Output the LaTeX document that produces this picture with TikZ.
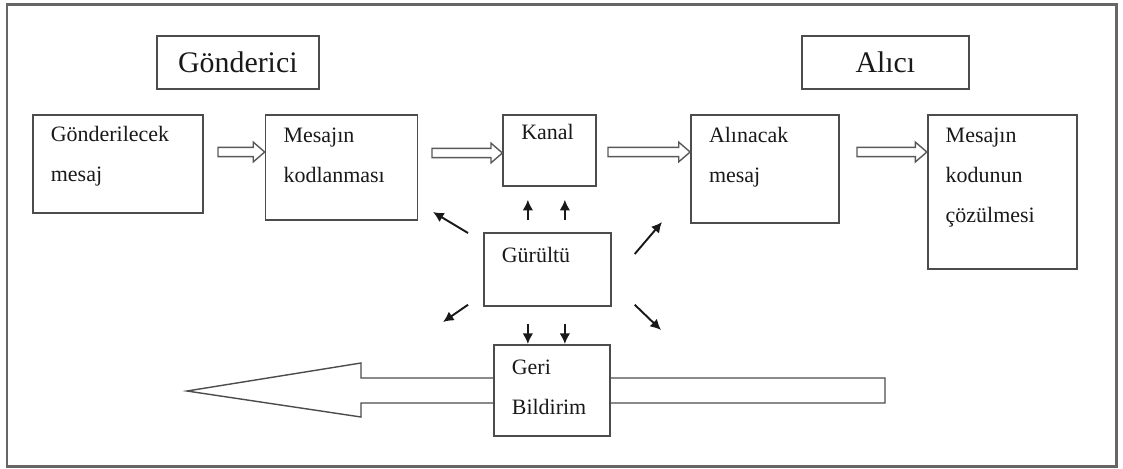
\documentclass[tikz,border=0pt]{standalone}
\usepackage{fontspec}
\setmainfont{Liberation Serif}
\usetikzlibrary{arrows.meta, positioning, calc}

\begin{document}
\begin{tikzpicture}[x=0.02cm, y=-0.02cm,
      kutu/.style={draw=black!70, line width=1pt, fill=white, text=black!90,
        inner xsep=0.36cm, inner ysep=0pt, align=left, anchor=north west,
        font=\fontsize{12.5}{22.8}\selectfont},
      baslik/.style={draw=black!70, line width=1pt, text=black!90, anchor=north west,
        minimum height=1.06cm, font=\fontsize{17}{20}\selectfont},
      kara ok/.style={-{Latex[length=6pt,width=6pt]}, line width=1.1pt, black!90},
      bos ok/.style={draw=black!65, line width=0.8pt, to path={
        let \p1=(\tikztostart), \p2=(\tikztotarget) in
        (\x1,\y1+2.6pt) -- (\x2-6.5pt,\y1+2.6pt) -- (\x2-6.5pt,\y1+5.6pt) -- (\x2,\y1)
        -- (\x2-6.5pt,\y1-5.6pt) -- (\x2-6.5pt,\y1-2.6pt) -- (\x1,\y1-2.6pt) -- cycle}}]
  \useasboundingbox (0,0) rectangle (1123,468);
  \draw[line width=1.7pt, black!60] (7,4) rectangle (1116,466);

  % basliklar
  \node[baslik, minimum width=3.24cm] (gn) at (156,35) {Gönderici};
  \node[baslik, minimum width=3.34cm] (ac) at (801,35) {Alıcı};

  % ust sira
  \node[kutu, text width=2.68cm, text height=0.54cm, text depth=1.42cm] (gm) at (32,114) {Gönderilecek\\mesaj};
  \node[kutu, text width=2.32cm, text height=0.56cm, text depth=1.54cm,
    right=1.22cm of gm.north east, anchor=north west] (kd) {Mesajın\\kodlanması};
  \node[kutu, text width=1.14cm, text height=0.5cm, text depth=0.92cm,
    right=1.68cm of kd.north east, anchor=north west] (kn) {Kanal};
  \node[kutu, text width=2.24cm, text height=0.56cm, text depth=1.6cm,
    right=1.86cm of kn.north east, anchor=north west] (al) {Alınacak\\mesaj};
  \node[kutu, text width=2.26cm, text height=0.56cm, text depth=2.52cm,
    right=1.74cm of al.north east, anchor=north west] (cz) {Mesajın\\kodunun\\çözülmesi};

  \coordinate (o1) at (218,152);
  \coordinate (o2) at (432,153);
  \coordinate (o3) at (608,152);
  \coordinate (o4) at (857,152);
  \foreach \o/\h in {o1/kd, o2/kn, o3/al, o4/cz}
    \draw[bos ok] (\o) to (\o -| \h.west);

  % geri bildirim oku
  \coordinate (gb uc) at (187,391);
  \draw[line width=0.8pt, draw=black!70, fill=white] (gb uc) -- (361,363) -- (361,378)
    -- (885,378) -- (885,403) -- (361,403) -- (361,417) -- cycle;

  \node[kutu, text width=1.82cm, text height=0.6cm, text depth=0.86cm] (gu) at (483,232) {Gürültü};
  \node[kutu, text width=1.6cm, text height=0.6cm, text depth=1.22cm] (gb) at (493,344) {Geri\\Bildirim};

  % gurultu oklari
  \draw[kara ok, shorten <=0.24cm, shorten >=0.26cm] ([xshift=-0.39cm]gu.north) -- ([xshift=-0.39cm]gu.north |- kn.south);
  \draw[kara ok, shorten <=0.24cm, shorten >=0.26cm] ([xshift=0.35cm]gu.north) -- ([xshift=0.35cm]gu.north |- kn.south);
  \draw[kara ok, shorten <=0.34cm] ([xshift=-0.39cm]gu.south) -- ([xshift=-0.39cm]gu.south |- gb.north);
  \draw[kara ok, shorten <=0.34cm] ([xshift=0.35cm]gu.south) -- ([xshift=0.35cm]gu.south |- gb.north);
  \coordinate (d1) at (433,212);
  \coordinate (d2) at (662,222);
  \coordinate (d3) at (443,322);
  \coordinate (d4) at (661,330);
  \draw[kara ok] ([shift={(-15,1)}]gu.north west) -- (d1);
  \draw[kara ok] ([shift={(23,22)}]gu.north east) -- (d2);
  \draw[kara ok] ([shift={(-15,-2)}]gu.south west) -- (d3);
  \draw[kara ok] ([shift={(23,-2)}]gu.south east) -- (d4);
\end{tikzpicture}
\end{document}
